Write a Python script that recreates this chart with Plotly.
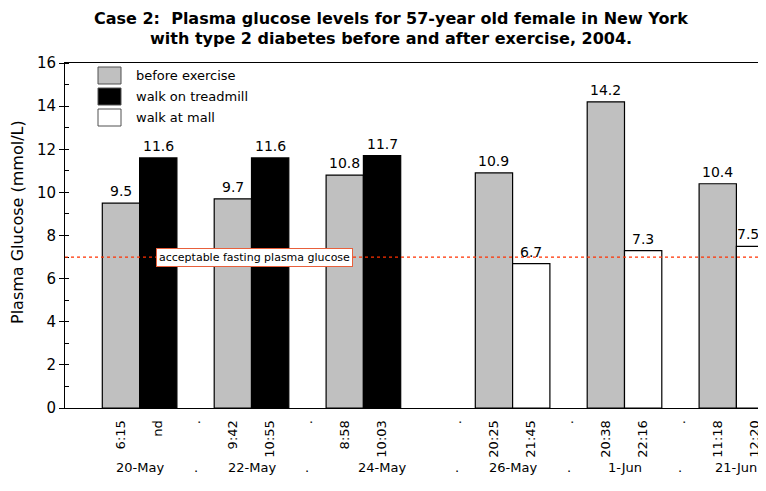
import plotly.graph_objects as go

# ---- data ----
slot_labels = ["", "6:15", "nd", ".", "9:42", "10:55", ".", "8:58", "10:03", "", ".",
               "20:25", "21:45", ".", "20:38", "22:16", ".", "11:18", "12:20"]
date_labels = ["20-May", ".", "22-May", ".", "24-May", ".", "26-May", ".", "1-Jun", ".", "21-Jun"]
date_pos = [1.5, 3, 4.5, 6, 8, 10, 11.5, 13, 14.5, 16, 17.5]

series_names = ["before exercise", "walk on treadmill", "walk at mall"]
before_slots = [1, 4, 7, 11, 14, 17]
before_values = [9.5, 9.7, 10.8, 10.9, 14.2, 10.4]
treadmill_slots = [2, 5, 8]
treadmill_values = [11.6, 11.6, 11.7]
mall_slots = [12, 15, 18]
mall_values = [6.7, 7.3, 7.5]
target_value = 7
target_label = "acceptable fasting plasma glucose"
title_lines = ["Case 2:  Plasma glucose levels for 57-year old female in New York",
               "with type 2 diabetes before and after exercise, 2004."]
y_title = "Plasma Glucose (mmol/L)"

colors = ["#c0c0c0", "#000000", "#ffffff"]
FONT = "DejaVu Sans"

# page body has a default 8px margin; lay out in viewport pixels
OFF = 8
VW, VH = 766, 491
PL, PT, PB = 65, 63, 408          # plot left / top / bottom in viewport pixels
PW, PH = VW - PL, PB - PT
W, H = VW - OFF, VH - OFF
L, T = PL - OFF, PT - OFF
B = H - T - PH
slot_px = 37.3
x_end = -0.5 + PW / slot_px


def px_x(px):
    return (px - PL) / PW


def px_y(py):
    return (PB - py) / PH


fig = go.Figure()
for name, xs, ys, col in zip(series_names,
                             [before_slots, treadmill_slots, mall_slots],
                             [before_values, treadmill_values, mall_values],
                             colors):
    fig.add_trace(go.Bar(
        x=xs, y=ys, name=name, width=1,
        marker=dict(color=col, line=dict(color="black", width=1.2)),
        showlegend=False,
    ))
    # value labels (kept inside the visible plot width)
    for xv, yv in zip(xs, ys):
        inside = xv + 0.5 <= x_end
        fig.add_annotation(
            x=xv if inside else 1, xref="x" if inside else "paper",
            y=yv, yref="y", text=f"{yv:.1f}", showarrow=False,
            xanchor="center" if inside else "right", yanchor="bottom", yshift=2,
            xshift=0 if inside else -5,
            font=dict(size=14, color="black", family=FONT))

# target line
fig.add_shape(type="line", xref="paper", x0=0, x1=1, yref="y", y0=target_value, y1=target_value,
              line=dict(color="#ff3000", width=1.2, dash="dot"))
fig.add_annotation(x=4.59, y=target_value, xref="x", yref="y", text=target_label,
                   showarrow=False, bgcolor="white", bordercolor="#e8603c", borderwidth=1,
                   borderpad=2, font=dict(size=11, color="black", family=FONT))

# date row
for lab, p in zip(date_labels, date_pos):
    fig.add_annotation(x=p, y=px_y(468), xref="x", yref="paper", text=lab,
                       showarrow=False, yanchor="middle",
                       font=dict(size=13, color="black", family=FONT))

# custom legend
row_tops = [67, 88, 109]
for name, col, top in zip(series_names, colors, row_tops):
    fig.add_shape(type="rect", xref="paper", yref="paper",
                  x0=px_x(98), x1=px_x(121), y0=px_y(top), y1=px_y(top + 17),
                  fillcolor=col, line=dict(color="#505050", width=1))
    fig.add_annotation(xref="paper", yref="paper", x=px_x(134), y=px_y(top + 8.5),
                       text=name, showarrow=False, xanchor="left", yanchor="middle",
                       font=dict(size=13, color="black", family=FONT))

# title lines
for line, cy in zip(title_lines, [18, 39]):
    fig.add_annotation(xref="paper", yref="paper", x=px_x(391), y=px_y(cy), text=f"<b>{line}</b>",
                       showarrow=False, xanchor="center", yanchor="middle",
                       font=dict(size=16, color="black", family=FONT))

# y-axis title
fig.add_annotation(xref="paper", yref="paper", x=px_x(17), y=px_y(222), text=y_title,
                   textangle=-90, showarrow=False, xanchor="center", yanchor="middle",
                   font=dict(size=16, color="black", family=FONT))

fig.update_layout(
    width=W, height=H,
    margin=dict(l=L, r=0, t=T, b=B, autoexpand=False),
    plot_bgcolor="white", paper_bgcolor="white",
    barmode="overlay",
    font=dict(family=FONT, color="black"),
    xaxis=dict(range=[-0.5, x_end], tickmode="array",
               tickvals=list(range(len(slot_labels))), ticktext=slot_labels,
               tickangle=-90, ticks="", ticklabelstandoff=6, automargin=False,
               showline=True, mirror=True, linecolor="black",
               linewidth=1, showgrid=False, zeroline=False,
               tickfont=dict(size=13, color="black", family=FONT)),
    yaxis=dict(range=[0, 16], dtick=2, ticks="outside", ticklen=5, tickcolor="black",
               automargin=False,
               showline=True, linecolor="black", linewidth=1, showgrid=False, zeroline=False,
               minor=dict(dtick=1, ticks="inside", ticklen=4, tickcolor="black"),
               tickfont=dict(size=15, color="black", family=FONT)),
)

fig.write_html("out.html")
